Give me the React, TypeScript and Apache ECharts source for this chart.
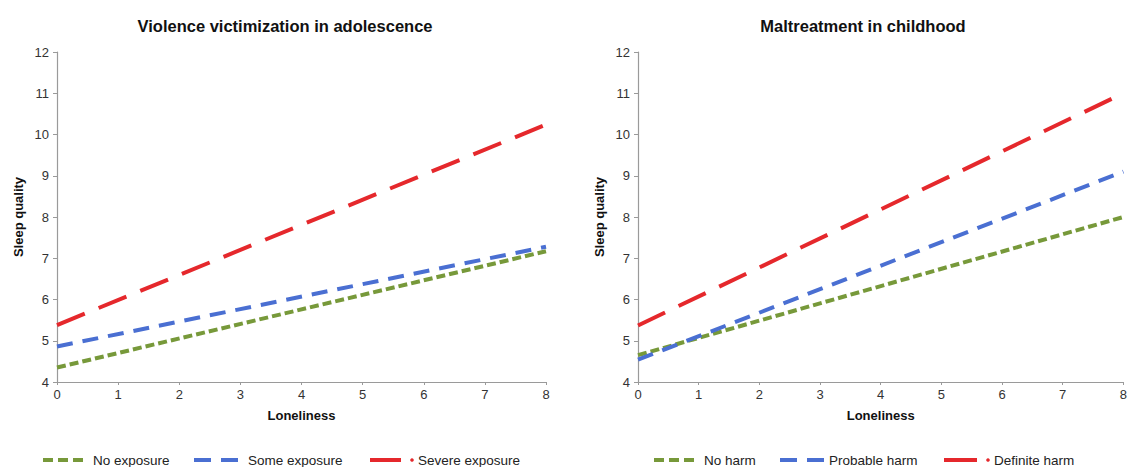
import React, { useEffect, useRef } from "react";
import * as echarts from "echarts";

const loneliness = [0, 8];
const xTicks = ["0", "1", "2", "3", "4", "5", "6", "7", "8"];
const yTicks = ["4", "5", "6", "7", "8", "9", "10", "11", "12"];

const violenceTitle = "Violence victimization in adolescence";
const violenceNames = ["No exposure", "Some exposure", "Severe exposure"];
const noExposure = [4.35, 7.17];
const someExposure = [4.86, 7.28];
const severeExposure = [5.38, 10.24];

const maltreatTitle = "Maltreatment in childhood";
const maltreatNames = ["No harm", "Probable harm", "Definite harm"];
const noHarm = [4.65, 8.0];
const probableHarm = [4.54, 9.1];
const definiteHarm = [5.37, 11.0];

const GREEN = "#77993a";
const BLUE = "#4a6fd2";
const RED = "#e5282c";
const FONT = "Liberation Sans, Arial, sans-serif";

const dashes = [
  [9, 4],
  [16, 10],
  [30, 15],
];
const colors = [GREEN, BLUE, RED];

export default function App() {
  const ref = useRef<HTMLDivElement>(null);
  useEffect(() => {
    document.body.style.margin = "0";
    const chart = echarts.init(ref.current!, null, { renderer: "svg" });
    const toPts = (v: number[]) => loneliness.map((x, i) => [x, v[i]]);
    const grids = [
      { left: 57, right: 584, top: 52, bottom: 85 },
      { left: 638, right: 3, top: 52, bottom: 85 },
    ];
    const xAxisBase = (gi: number) => ({
      type: "value",
      gridIndex: gi,
      min: 0,
      max: 8,
      interval: 1,
      name: "Loneliness",
      nameLocation: "middle",
      nameGap: 27,
      nameTextStyle: { fontFamily: FONT, fontWeight: "bold", fontSize: 13, color: "#111" },
      axisLine: { lineStyle: { color: "#9a9a9a", width: 1.2 } },
      axisTick: { show: true, length: 3, inside: false, lineStyle: { color: "#9a9a9a" } },
      axisLabel: {
        fontFamily: FONT,
        fontSize: 13,
        color: "#333",
        margin: 6,
        formatter: (v: number) => xTicks[v] ?? String(v),
      },
      splitLine: { show: false },
    });
    const yAxisBase = (gi: number) => ({
      type: "value",
      gridIndex: gi,
      min: 4,
      max: 12,
      interval: 1,
      name: "Sleep quality",
      nameLocation: "middle",
      nameGap: 32,
      nameRotate: 90,
      nameTextStyle: { fontFamily: FONT, fontWeight: "bold", fontSize: 13, color: "#111" },
      axisLine: { show: true, lineStyle: { color: "#9a9a9a", width: 1.2 } },
      axisTick: { show: true, length: 4, lineStyle: { color: "#9a9a9a" } },
      axisLabel: {
        fontFamily: FONT,
        fontSize: 13,
        color: "#333",
        margin: 8,
        formatter: (v: number) => yTicks[v - 4] ?? String(v),
      },
      splitLine: { show: false },
    });
    const mk = (name: string, data: number[], k: number, gi: number) => ({
      type: "line",
      name,
      xAxisIndex: gi,
      yAxisIndex: gi,
      data: toPts(data),
      showSymbol: false,
      symbol: "none",
      lineStyle: { color: colors[k], width: 4, type: dashes[k] },
      silent: true,
    });

    const legendItems = [
      { x1: 43, x2: 85, tx: 93, name: violenceNames[0], k: 0 },
      { x1: 194, x2: 241, tx: 248, name: violenceNames[1], k: 1 },
      { x1: 370, x2: 401, tx: 418, name: violenceNames[2], k: 2, dot: 412 },
      { x1: 654, x2: 695, tx: 704, name: maltreatNames[0], k: 0 },
      { x1: 780, x2: 824, tx: 829, name: maltreatNames[1], k: 1 },
      { x1: 944, x2: 977, tx: 994, name: maltreatNames[2], k: 2, dot: 988 },
    ];
    const LY = 460;
    const legendDash = [
      [10, 5],
      [17, 10],
      [40, 0],
    ];
    const graphic: any[] = [];
    legendItems.forEach((it) => {
      graphic.push({
        type: "line",
        shape: { x1: it.x1, y1: LY, x2: it.x2, y2: LY },
        style: { stroke: colors[it.k], lineWidth: 4, lineDash: it.k === 2 ? null : legendDash[it.k] },
        silent: true,
      });
      if ((it as any).dot) {
        graphic.push({
          type: "circle",
          shape: { cx: (it as any).dot, cy: LY, r: 1.8 },
          style: { fill: colors[it.k] },
          silent: true,
        });
      }
      graphic.push({
        type: "text",
        x: it.tx,
        y: LY,
        style: {
          text: it.name,
          fontFamily: FONT,
          fontSize: 13.5,
          fill: "#222",
          verticalAlign: "middle",
        },
        silent: true,
      });
    });

    chart.setOption({
      animation: false,
      backgroundColor: "#fff",
      title: [
        {
          text: violenceTitle,
          left: 280,
          top: 12,
          textAlign: "center",
          textStyle: { fontFamily: FONT, fontWeight: "bold", fontSize: 16.5, color: "#111" },
        },
        {
          text: maltreatTitle,
          left: 858,
          top: 12,
          textAlign: "center",
          textStyle: { fontFamily: FONT, fontWeight: "bold", fontSize: 16.5, color: "#111" },
        },
      ],
      grid: grids,
      xAxis: [xAxisBase(0), xAxisBase(1)],
      yAxis: [yAxisBase(0), yAxisBase(1)],
      series: [
        mk(violenceNames[0], noExposure, 0, 0),
        mk(violenceNames[1], someExposure, 1, 0),
        mk(violenceNames[2], severeExposure, 2, 0),
        mk(maltreatNames[0], noHarm, 0, 1),
        mk(maltreatNames[1], probableHarm, 1, 1),
        mk(maltreatNames[2], definiteHarm, 2, 1),
      ],
      graphic,
    });
    return () => chart.dispose();
  }, []);
  return <div ref={ref} style={{ width: 1130, height: 467 }} />;
}
